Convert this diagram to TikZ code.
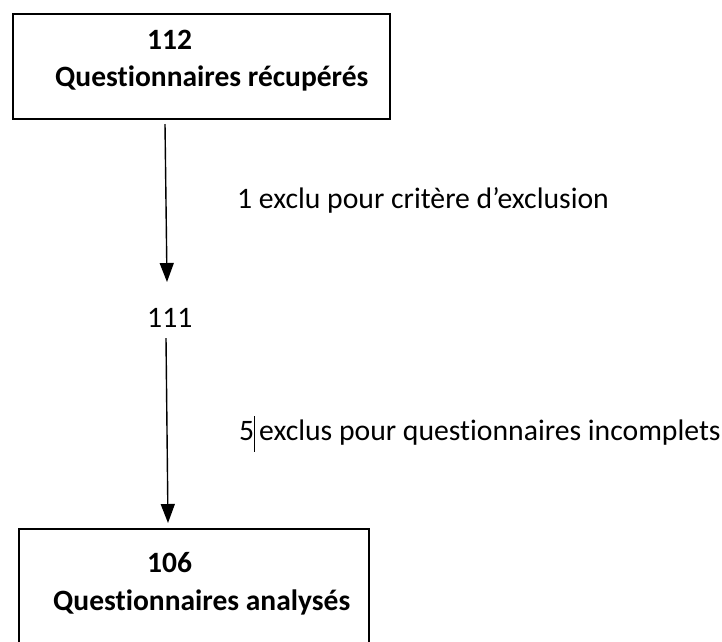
\documentclass[tikz,border=0pt]{standalone}
\usepackage{fontspec}
\setmainfont{Carlito}[Ligatures=CommonOff]
\usetikzlibrary{arrows.meta}
\tikzset{
  boxshape/.style={draw=black, line width=1.6pt, inner sep=0pt, anchor=north west},
  lbl/.style={anchor=base west, inner sep=0pt, font=\fontsize{29.7}{36}\selectfont},
  blbl/.style={lbl, font=\fontsize{29.5}{35}\selectfont\bfseries},
  flow/.style={line width=1.4pt, -{Triangle[length=19pt,width=14pt]}}
}
\begin{document}
\begin{tikzpicture}[x=1pt,y=-1pt]
\useasboundingbox (0,0) rectangle (722,641);
\fill[white] (0,0) rectangle (722,641);
\begin{scope}
\clip (0,0) rectangle (722,641);
\node[boxshape, minimum width=377pt, minimum height=105pt] (box1) at (12,13) {};
\node[boxshape, minimum width=350pt, minimum height=140pt] (box2) at (18,528) {};
\end{scope}
\node[blbl] (n112) at (147,49) {112};
\node[blbl] (t1) at (55,86) {Questionnaires récupérés};
\node[lbl] (l1) at (237,208) {1 exclu pour critère d’exclusion};
\node[lbl] (n111) at (147,327) {111};
\node[lbl] (n5) at (239,440) {5};
\node[lbl] (l2) at (259,440) {exclus pour questionnaires incomplets};
\draw[line width=0.8pt] (254,416) -- (254,452);
\node[blbl] (n106) at (147,572) {106};
\node[blbl] (t2) at (53,610) {Questionnaires analysés};
\coordinate (a1s) at (165,124);
\coordinate (a1e) at (167,282);
\coordinate (a2s) at (166,338);
\coordinate (a2e) at (168,523);
\draw[flow] (a1s) -- (a1e);
\draw[flow] (a2s) -- (a2e);
\end{tikzpicture}
\end{document}
